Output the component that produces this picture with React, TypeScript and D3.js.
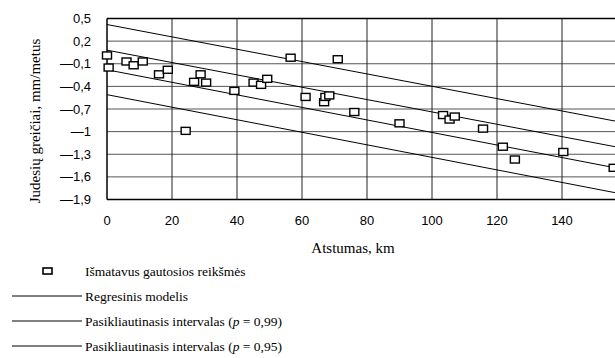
import React, { useEffect, useRef } from 'react';
import * as d3 from 'd3';

// measured points (km, mm/metus)
const distances = [0, 0.5, 6, 8.2, 11, 16, 18.7, 24.2, 26.8, 28.8, 30.5, 39.2, 45.1, 47.4, 49.3, 56.5, 61.1, 66.8, 67.2, 68.4, 71, 76.1, 90, 103.4, 105.4, 107, 115.7, 121.8, 125.5, 140.4, 155.9];
const velocities = [0.01, -0.15, -0.07, -0.12, -0.07, -0.24, -0.18, -0.99, -0.34, -0.24, -0.35, -0.46, -0.35, -0.38, -0.3, -0.02, -0.54, -0.61, -0.54, -0.52, -0.04, -0.74, -0.89, -0.78, -0.84, -0.8, -0.96, -1.2, -1.37, -1.27, -1.48];

// straight lines, value at 0 km and at 160 km
const lineEnds = [0, 160];
const upper99 = [0.42, -0.89];
const upper95 = [0.08, -1.23];
const lower95 = [-0.18, -1.51];
const lower99 = [-0.51, -1.84];

const xTicks = [0, 20, 40, 60, 80, 100, 120, 140, 160];
const yTicks = [0.5, 0.2, -0.1, -0.4, -0.7, -1, -1.3, -1.6, -1.9];

const legendItems = [
  { type: 'square', label: 'Išmatavus gautosios reikšmės' },
  { type: 'line', label: 'Regresinis modelis' },
  { type: 'line', label: 'Pasikliautinasis intervalas', p: '0,99' },
  { type: 'line', label: 'Pasikliautinasis intervalas', p: '0,95' },
];

const W = 615;
const H = 358;
const left = 107;
const top = 18.5;
const bottom = 199.5;
const right = 627;

const SANS = 'Liberation Sans, Arial, sans-serif';
const SERIF = 'Liberation Serif, Times New Roman, serif';

const fmt = (v: number) => (v < 0 ? '—' : '') + String(Math.abs(v)).replace('.', ',');

const App = () => {
  const svgRef = useRef<SVGSVGElement>(null);

  useEffect(() => {
    const svg = d3.select(svgRef.current);
    svg.selectAll('*').remove();

    const x = d3.scaleLinear().domain([0, 160]).range([left, right]);
    const y = d3.scaleLinear().domain([-1.9, 0.5]).range([bottom, top]);

    const grid = svg.append('g');
    grid
      .selectAll('line.h')
      .data(yTicks)
      .enter()
      .append('line')
      .attr('x1', left)
      .attr('x2', W)
      .attr('y1', (d) => y(d))
      .attr('y2', (d) => y(d))
      .attr('stroke', (d) => (d === 0.5 || d === -1.9 ? '#000' : '#555'))
      .attr('stroke-width', (d) => (d === 0.5 || d === -1.9 ? 1.5 : 1));
    grid
      .selectAll('line.v')
      .data(xTicks.slice(1))
      .enter()
      .append('line')
      .attr('x1', (d) => x(d))
      .attr('x2', (d) => x(d))
      .attr('y1', top)
      .attr('y2', bottom)
      .attr('stroke', '#222')
      .attr('stroke-width', 1);
    svg
      .append('line')
      .attr('x1', left)
      .attr('x2', left)
      .attr('y1', top)
      .attr('y2', bottom)
      .attr('stroke', '#000')
      .attr('stroke-width', 1.5);

    // tick labels
    svg
      .append('g')
      .selectAll('text')
      .data(yTicks)
      .enter()
      .append('text')
      .attr('x', 91)
      .attr('y', (d) => y(d) + 4.5)
      .attr('text-anchor', 'end')
      .attr('font-family', SANS)
      .attr('font-size', 13)
      .text((d) => fmt(d));
    svg
      .append('g')
      .selectAll('text')
      .data(xTicks.filter((d) => x(d) + 12 < W))
      .enter()
      .append('text')
      .attr('x', (d) => x(d))
      .attr('y', 225)
      .attr('text-anchor', 'middle')
      .attr('font-family', SANS)
      .attr('font-size', 13)
      .text((d) => String(d));

    // regression / interval lines
    const line = d3
      .line<[number, number]>()
      .x((d) => x(d[0]))
      .y((d) => y(d[1]));
    [upper99, upper95, lower95, lower99].forEach((vals) => {
      svg
        .append('path')
        .attr('d', line(lineEnds.map((k, i) => [k, vals[i]] as [number, number])))
        .attr('fill', 'none')
        .attr('stroke', '#000')
        .attr('stroke-width', 1);
    });

    // measured points
    svg
      .append('g')
      .selectAll('rect')
      .data(distances.map((d, i) => [d, velocities[i]]))
      .enter()
      .append('rect')
      .attr('x', (d) => x(d[0]) - 4.5)
      .attr('y', (d) => y(d[1]) - 3.5)
      .attr('width', 9)
      .attr('height', 7)
      .attr('fill', '#fff')
      .attr('stroke', '#000')
      .attr('stroke-width', 1.4);

    // axis titles
    svg
      .append('text')
      .attr('transform', 'translate(40,121) rotate(-90)')
      .attr('text-anchor', 'middle')
      .attr('font-family', SERIF)
      .attr('font-size', 15)
      .text('Judesių greičiai, mm/metus');
    svg
      .append('text')
      .attr('x', 353)
      .attr('y', 253)
      .attr('text-anchor', 'middle')
      .attr('font-family', SERIF)
      .attr('font-size', 15)
      .text('Atstumas, km');

    // legend
    const legend = svg
      .append('g')
      .selectAll('g')
      .data(legendItems)
      .enter()
      .append('g')
      .attr('transform', (_, i) => `translate(0,${271 + i * 25})`);
    legend
      .filter((d) => d.type === 'square')
      .append('rect')
      .attr('x', 43)
      .attr('y', -3)
      .attr('width', 9)
      .attr('height', 6)
      .attr('fill', '#fff')
      .attr('stroke', '#000')
      .attr('stroke-width', 1.6);
    legend
      .filter((d) => d.type === 'line')
      .append('line')
      .attr('x1', 12)
      .attr('x2', 82)
      .attr('stroke', '#000')
      .attr('stroke-width', 1);
    const lt = legend
      .append('text')
      .attr('x', 85)
      .attr('y', 4.5)
      .attr('font-family', SERIF)
      .attr('font-size', 13.5);
    lt.append('tspan').text((d) => d.label);
    lt.filter((d) => !!d.p).append('tspan').text(' (');
    lt.filter((d) => !!d.p).append('tspan').attr('font-style', 'italic').text('p');
    lt.filter((d) => !!d.p).append('tspan').text((d) => ` = ${d.p})`);
  }, []);

  return (
    <svg
      ref={svgRef}
      width={W}
      height={H}
      style={{ position: 'absolute', left: 0, top: 0, background: '#fff' }}
    ></svg>
  );
};

export default App;
